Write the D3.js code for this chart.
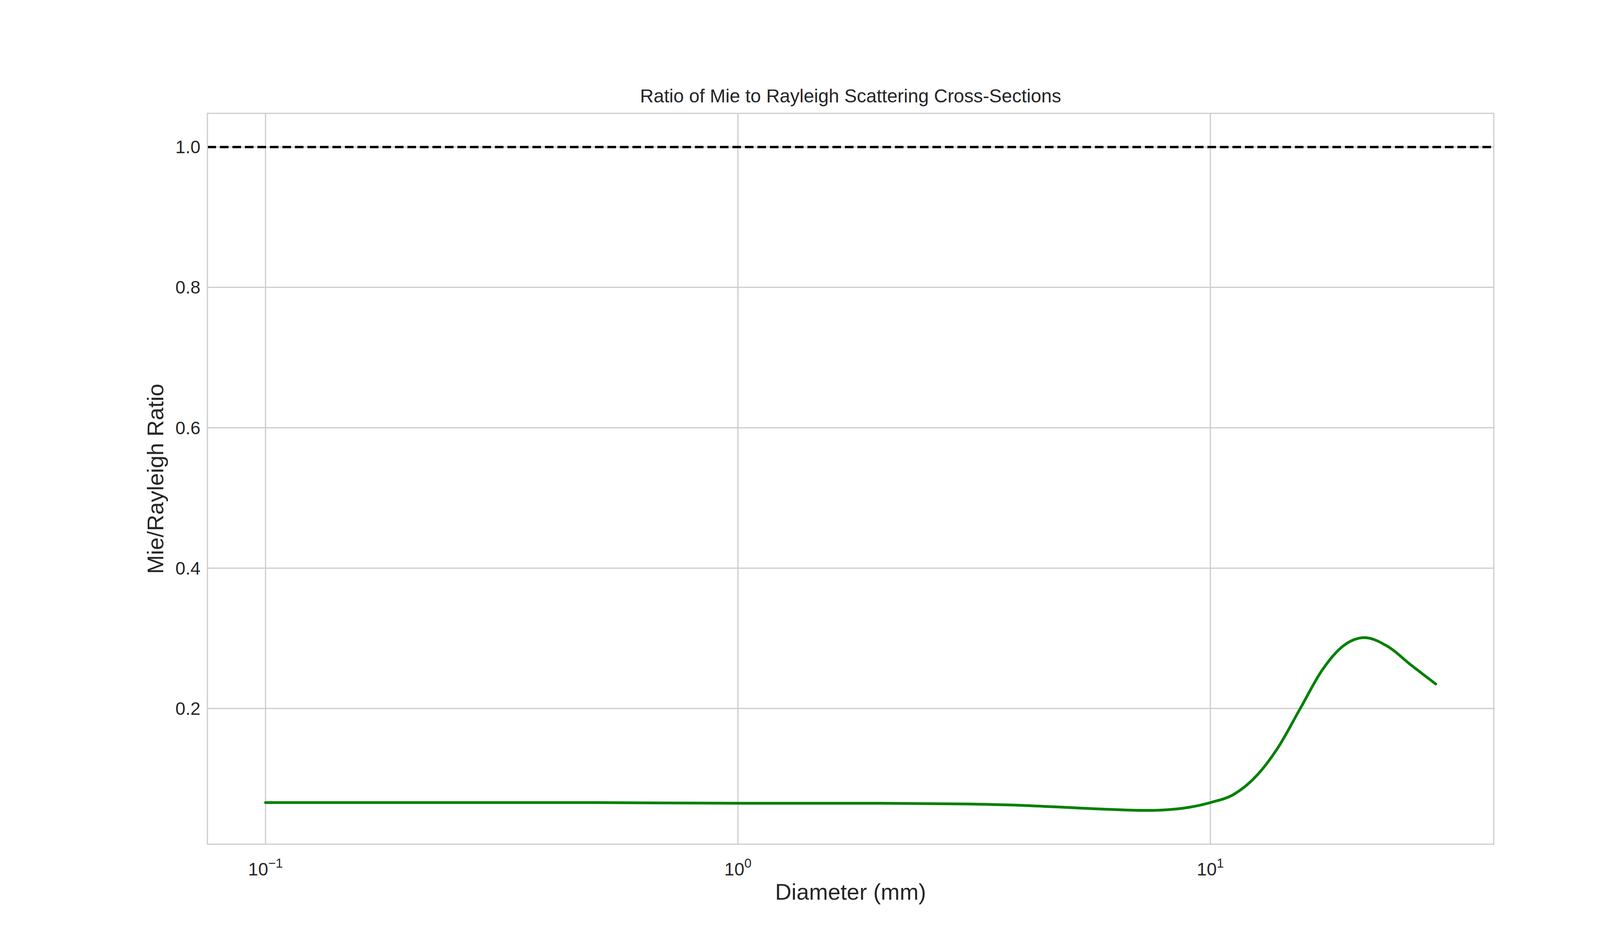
<!DOCTYPE html>
<html>
<head>
<meta charset="utf-8">
<script src="https://cdn.jsdelivr.net/npm/d3@7"></script>
<style>
  body { margin: 0; background: #fff; }
  text { font-family: "Liberation Sans", Arial, sans-serif; fill: #262626; }
</style>
</head>
<body>
<div class="holder"></div>
<script>
// diameter (mm) and Mie/Rayleigh ratio
var diameters = [0.1, 0.2, 0.5, 1, 2, 3, 4, 5, 6, 7.3, 8.5, 10, 11.2, 12.6, 13.9, 15.5, 17.3, 19.1, 21.2, 23.8, 26.6, 30]
var ratios = [0.066, 0.066, 0.066, 0.065, 0.065, 0.064, 0.062, 0.059, 0.0565, 0.0548, 0.057, 0.066, 0.0775, 0.106, 0.144, 0.2, 0.256, 0.289, 0.301, 0.288, 0.262, 0.235]
var yTicks = [0.2, 0.4, 0.6, 0.8, 1.0]
var xTicks = [0.1, 1, 10]
var xTickExp = ["\u22121", "0", "1"]

var width = 4200, height = 2400
// plot area (window.top is read-only, so no "top" here)
var pLeft = 531, pRight = 3824, pTop = 290, pBottom = 2160

var x = d3.scaleLog().domain([Math.pow(10, -1.123), Math.pow(10, 1.6)]).range([pLeft, pRight])
var y = d3.scaleLinear().domain([0.0067, 1.048]).range([pBottom, pTop])

var svg = d3.select(".holder").append("svg")
    .attr("width", width)
    .attr("height", height)

// grid
svg.append("g").selectAll("line")
    .data(xTicks).enter().append("line")
    .attr("x1", d => x(d)).attr("x2", d => x(d))
    .attr("y1", pTop).attr("y2", pBottom)
    .style("stroke", "#cccccc").style("stroke-width", 3)
svg.append("g").selectAll("line")
    .data(yTicks).enter().append("line")
    .attr("x1", pLeft).attr("x2", pRight)
    .attr("y1", d => y(d)).attr("y2", d => y(d))
    .style("stroke", "#cccccc").style("stroke-width", 3)

// reference line at 1
svg.append("line")
    .attr("x1", pLeft).attr("x2", pRight)
    .attr("y1", y(1)).attr("y2", y(1))
    .style("stroke", "black").style("stroke-width", 6)
    .style("stroke-dasharray", "22,10")

var line = d3.line()
    .x((d, i) => x(diameters[i]))
    .y(d => y(d))
    .curve(d3.curveMonotoneX)

svg.append("path")
    .datum(ratios)
    .attr("d", line)
    .style("fill", "none")
    .style("stroke", "green")
    .style("stroke-width", 7)
    .style("stroke-linecap", "round")

// frame
svg.append("rect")
    .attr("x", pLeft).attr("y", pTop)
    .attr("width", pRight - pLeft).attr("height", pBottom - pTop)
    .style("fill", "none").style("stroke", "#cccccc").style("stroke-width", 3)

// y tick labels
svg.append("g").selectAll("text")
    .data(yTicks).enter().append("text")
    .attr("x", pLeft - 18)
    .attr("y", d => y(d))
    .attr("dy", "0.35em")
    .attr("text-anchor", "end")
    .style("font-size", "46px")
    .text(d => d.toFixed(1))

// x tick labels 10^n
var xt = svg.append("g").selectAll("text")
    .data(xTicks).enter().append("text")
    .attr("x", d => x(d))
    .attr("y", pBottom + 80)
    .attr("text-anchor", "middle")
    .style("font-size", "46px")
xt.append("tspan").text("10")
xt.append("tspan").attr("dy", "-20").style("font-size", "33px").text((d, i) => xTickExp[i])

svg.append("text")
    .attr("x", (pLeft + pRight) / 2).attr("y", 262)
    .attr("text-anchor", "middle")
    .style("font-size", "48px")
    .text("Ratio of Mie to Rayleigh Scattering Cross-Sections")

svg.append("text")
    .attr("x", (pLeft + pRight) / 2).attr("y", 2302)
    .attr("text-anchor", "middle")
    .style("font-size", "58px")
    .text("Diameter (mm)")

svg.append("text")
    .attr("transform", "translate(418," + ((pTop + pBottom) / 2) + ") rotate(-90)")
    .attr("text-anchor", "middle")
    .style("font-size", "58px")
    .text("Mie/Rayleigh Ratio")
</script>
</body>
</html>
